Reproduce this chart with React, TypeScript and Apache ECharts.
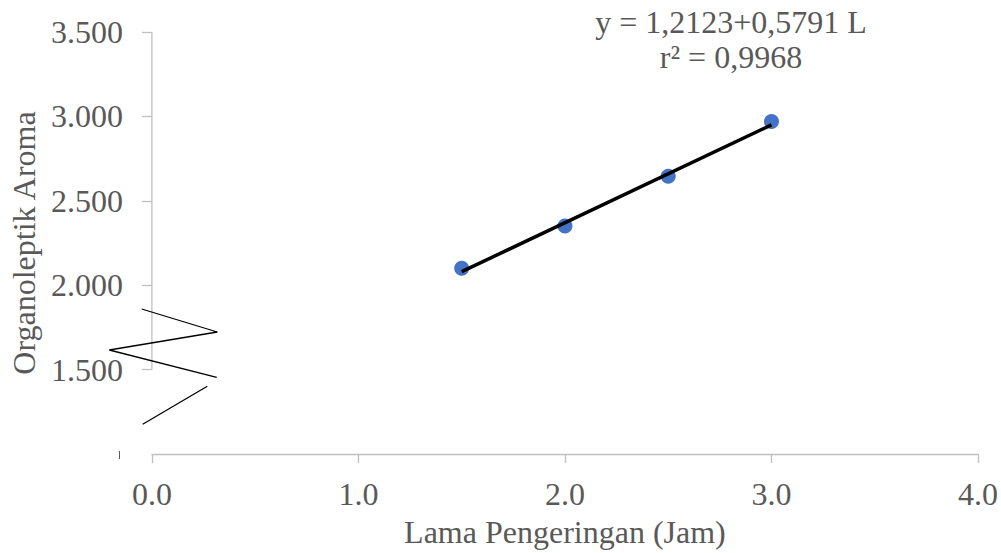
import React, { useEffect, useRef } from "react";
import * as echarts from "echarts";

const points: [number, number][] = [
  [1.5, 2.1],
  [2.0, 2.35],
  [2.5, 2.645],
  [3.0, 2.97],
];
const trendLine: [number, number][] = [
  [1.5, 2.08],
  [3.0, 2.95],
];
const yAxisSegment: [number, number][] = [
  [0, 1.5],
  [0, 3.5],
];
const equationLines = ["y = 1,2123+0,5791 L", "r² = 0,9968"];
const xName = "Lama Pengeringan (Jam)";
const yName = "Organoleptik Aroma";

const FONT = "Liberation Serif";
const TXT = "#595959";
const AX = "#BFBFBF";

export default function App() {
  const ref = useRef<HTMLDivElement>(null);
  useEffect(() => {
    if (!ref.current) return;
    const chart = echarts.init(ref.current, undefined, { renderer: "svg" });
    chart.setOption({
      animation: false,
      backgroundColor: "#ffffff",
      grid: { left: 148, right: 22, top: 32, bottom: 98, containLabel: false },
      xAxis: {
        type: "value",
        min: 0,
        max: 4,
        interval: 1,
        name: xName,
        nameLocation: "middle",
        nameGap: 62,
        nameTextStyle: { fontFamily: FONT, fontSize: 32, color: TXT },
        axisLine: { show: true, lineStyle: { color: AX, width: 1.3 } },
        axisTick: { show: true, inside: false, length: 9, lineStyle: { color: AX, width: 1.3 } },
        axisLabel: {
          fontFamily: FONT,
          fontSize: 32,
          color: TXT,
          margin: 24,
          formatter: (v: number) => v.toFixed(1),
        },
        splitLine: { show: false },
      },
      yAxis: {
        type: "value",
        min: 1,
        max: 3.5,
        interval: 0.5,
        name: yName,
        nameLocation: "middle",
        nameGap: 110,
        nameTextStyle: { fontFamily: FONT, fontSize: 32, color: TXT },
        axisLine: { show: false },
        axisTick: { show: true, inside: false, length: 10, lineStyle: { color: AX, width: 1.3 } },
        axisLabel: {
          fontFamily: FONT,
          fontSize: 32,
          color: TXT,
          margin: 29,
          showMinLabel: false,
          formatter: (v: number) => (v === 1 ? "" : v.toFixed(3)),
        },
        splitLine: { show: false },
      },
      series: [
        {
          type: "line",
          data: yAxisSegment,
          symbol: "none",
          clip: false,
          lineStyle: { color: AX, width: 1.3 },
          z: 1,
          silent: true,
        },
        {
          type: "scatter",
          data: points,
          symbol: "circle",
          symbolSize: 15,
          itemStyle: { color: "#4472C4", opacity: 1 },
          z: 2,
        },
        {
          type: "line",
          data: trendLine,
          symbol: "none",
          lineStyle: { color: "#000000", width: 3.5 },
          z: 3,
        },
      ],
      graphic: [
        {
          type: "text",
          x: 731,
          y: 4,
          style: {
            text: equationLines.join("\n"),
            fontFamily: FONT,
            fontSize: 32,
            lineHeight: 35,
            fill: TXT,
            align: "center",
            verticalAlign: "top",
          },
        },
        {
          type: "polyline",
          shape: {
            points: [
              [141.7, 309],
              [217.3, 332],
              [109.3, 350],
              [216.7, 377.3],
            ],
          },
          style: { stroke: "#000000", lineWidth: 1.3, fill: "none" },
          z: 10,
        },
        {
          type: "line",
          shape: { x1: 207.3, y1: 386.3, x2: 142.7, y2: 424.3 },
          style: { stroke: "#000000", lineWidth: 1.3 },
          z: 10,
        },
        {
          type: "line",
          shape: { x1: 119.5, y1: 451, x2: 119.5, y2: 459 },
          style: { stroke: "#595959", lineWidth: 1 },
          z: 10,
        },
      ],
    });
    return () => chart.dispose();
  }, []);
  return (
    <div
      ref={ref}
      style={{ position: "fixed", left: 0, top: 0, width: 1001, height: 553, background: "#fff" }}
    />
  );
}
